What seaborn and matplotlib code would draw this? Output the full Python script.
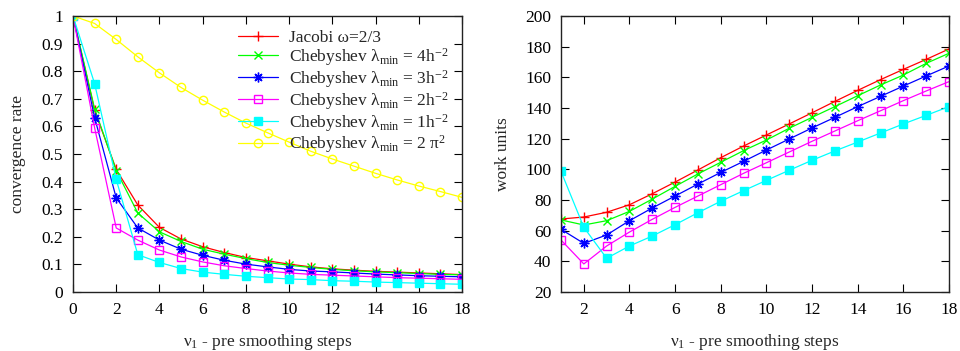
import numpy as np
import pandas as pd
import matplotlib
matplotlib.use("Agg")
import matplotlib.pyplot as plt
import seaborn as sns

# ---------------- data ----------------
steps_rate = list(range(0, 19))
rate_jacobi = [1.0, 0.658, 0.444, 0.315, 0.234, 0.192, 0.164, 0.143, 0.125, 0.113, 0.101, 0.091,
               0.084, 0.079, 0.075, 0.072, 0.069, 0.066, 0.063]
rate_cheb4 = [1.0, 0.664, 0.440, 0.286, 0.218, 0.183, 0.155, 0.137, 0.121, 0.107, 0.097, 0.089,
              0.082, 0.077, 0.073, 0.070, 0.067, 0.064, 0.062]
rate_cheb3 = [1.0, 0.632, 0.341, 0.232, 0.188, 0.155, 0.133, 0.115, 0.101, 0.091, 0.082, 0.076,
              0.073, 0.069, 0.065, 0.062, 0.059, 0.057, 0.055]
rate_cheb2 = [1.0, 0.595, 0.232, 0.188, 0.152, 0.127, 0.109, 0.095, 0.085, 0.076, 0.069, 0.064,
              0.061, 0.058, 0.055, 0.052, 0.050, 0.048, 0.046]
rate_cheb1 = [1.0, 0.755, 0.408, 0.135, 0.107, 0.085, 0.072, 0.064, 0.057, 0.052, 0.047, 0.045,
              0.041, 0.039, 0.036, 0.034, 0.032, 0.030, 0.028]
rate_cheb2pi = [1.0, 0.973, 0.915, 0.852, 0.794, 0.741, 0.695, 0.652, 0.612, 0.577, 0.543, 0.510,
                0.482, 0.456, 0.430, 0.406, 0.384, 0.364, 0.343]

steps_work = list(range(1, 19))
work_jacobi = [67.6, 68.9, 72.0, 76.9, 84.1, 91.7, 99.6, 107.6, 115.2, 122.4, 129.6, 136.9,
               144.3, 151.5, 158.5, 165.2, 171.7, 178.5]
work_cheb4 = [67.0, 63.7, 66.5, 72.6, 80.6, 88.9, 97.0, 104.6, 112.2, 119.1, 126.8, 133.9,
              140.9, 148.0, 155.0, 161.5, 169.1, 175.7]
work_cheb3 = [60.9, 51.7, 57.2, 66.5, 74.8, 82.6, 90.4, 98.0, 105.2, 112.6, 119.8, 127.0,
              133.9, 140.9, 147.6, 154.3, 160.9, 167.4]
work_cheb2 = [53.9, 38.3, 50.0, 59.1, 67.4, 75.2, 82.6, 90.0, 97.4, 104.3, 111.3, 118.3,
              125.0, 131.7, 138.2, 144.8, 151.1, 157.2]
work_cheb1 = [98.7, 62.2, 42.0, 50.0, 56.5, 63.9, 71.7, 79.2, 86.1, 92.8, 99.4, 105.9,
              112.0, 117.8, 123.7, 129.6, 135.2, 140.9]

labels = [
    "Jacobi ω=2/3",
    "Chebyshev λ$_{min}$ = 4h$^{-2}$",
    "Chebyshev λ$_{min}$ = 3h$^{-2}$",
    "Chebyshev λ$_{min}$ = 2h$^{-2}$",
    "Chebyshev λ$_{min}$ = 1h$^{-2}$",
    "Chebyshev λ$_{min}$ = 2 π$^{2}$",
]
colors = ["#ff0000", "#00ff00", "#0000ff", "#ff00ff", "#00ffff", "#ffff00"]
markers = ["+", "x", (8, 2, 0), "s", "s", "o"]
filled = [True, True, True, False, True, False]
msizes = [7, 6, 7, 5.5, 5.5, 6]

rate_series = [rate_jacobi, rate_cheb4, rate_cheb3, rate_cheb2, rate_cheb1, rate_cheb2pi]
work_series = [work_jacobi, work_cheb4, work_cheb3, work_cheb2, work_cheb1]

# ---------------- style ----------------
sns.set_style("ticks", {"xtick.direction": "in", "ytick.direction": "in"})
plt.rcParams["font.family"] = ["Liberation Serif", "DejaVu Serif"]
plt.rcParams["mathtext.fontset"] = "custom"
plt.rcParams["mathtext.rm"] = "Liberation Serif"
plt.rcParams["mathtext.it"] = "Liberation Serif"
plt.rcParams["mathtext.default"] = "regular"

fig = plt.figure(figsize=(9.6, 3.51), dpi=100)
ax1 = fig.add_axes([73 / 960, 1 - 292 / 351, 389 / 960, 276 / 351])
ax2 = fig.add_axes([561 / 960, 1 - 292 / 351, 388 / 960, 276 / 351])


def draw(ax, xs, ys, i, label=None):
    kw = dict(marker=markers[i], markersize=msizes[i], markeredgecolor=colors[i],
              markeredgewidth=1.0, linewidth=0.9)
    kw["markerfacecolor"] = colors[i] if filled[i] else "none"
    df = pd.DataFrame({"x": xs, "y": ys})
    sns.lineplot(data=df, x="x", y="y", color=colors[i], ax=ax, label=label, **kw)


for i, ys in enumerate(rate_series):
    draw(ax1, steps_rate, ys, i, labels[i])
for i, ys in enumerate(work_series):
    draw(ax2, steps_work, ys, i, None)

fs = 12.5
for ax in (ax1, ax2):
    for sp in ax.spines.values():
        sp.set_visible(True)
        sp.set_linewidth(1.0)
        sp.set_color("#222222")
    ax.tick_params(axis="both", which="major", direction="in", length=6, width=0.8,
                   top=True, right=True, labelsize=fs, colors="black", pad=7)
    ax.set_xlabel("ν$_1$ - pre smoothing steps", fontsize=fs, labelpad=10)

ax1.set_xlim(0, 18)
ax1.set_ylim(0, 1)
ax1.set_xticks(range(0, 19, 2))
ax1.set_yticks(np.round(np.arange(0, 1.01, 0.1), 1))
ax1.set_yticklabels(["0", "0.1", "0.2", "0.3", "0.4", "0.5", "0.6", "0.7", "0.8", "0.9", "1"])
ax1.set_ylabel("convergence rate", fontsize=fs, labelpad=11)

ax2.set_xlim(1, 18)
ax2.set_ylim(20, 200)
ax2.set_xticks(range(2, 19, 2))
ax2.set_yticks(range(20, 201, 20))
ax2.set_ylabel("work units", fontsize=fs, labelpad=10)

leg = ax1.legend(loc="upper left", bbox_to_anchor=(0.425, 0.95), frameon=False,
                 fontsize=fs, handlelength=2.3, handletextpad=0.6, labelspacing=0.0,
                 borderpad=0.0, borderaxespad=0.0)

fig.savefig("out.png", dpi=100)
